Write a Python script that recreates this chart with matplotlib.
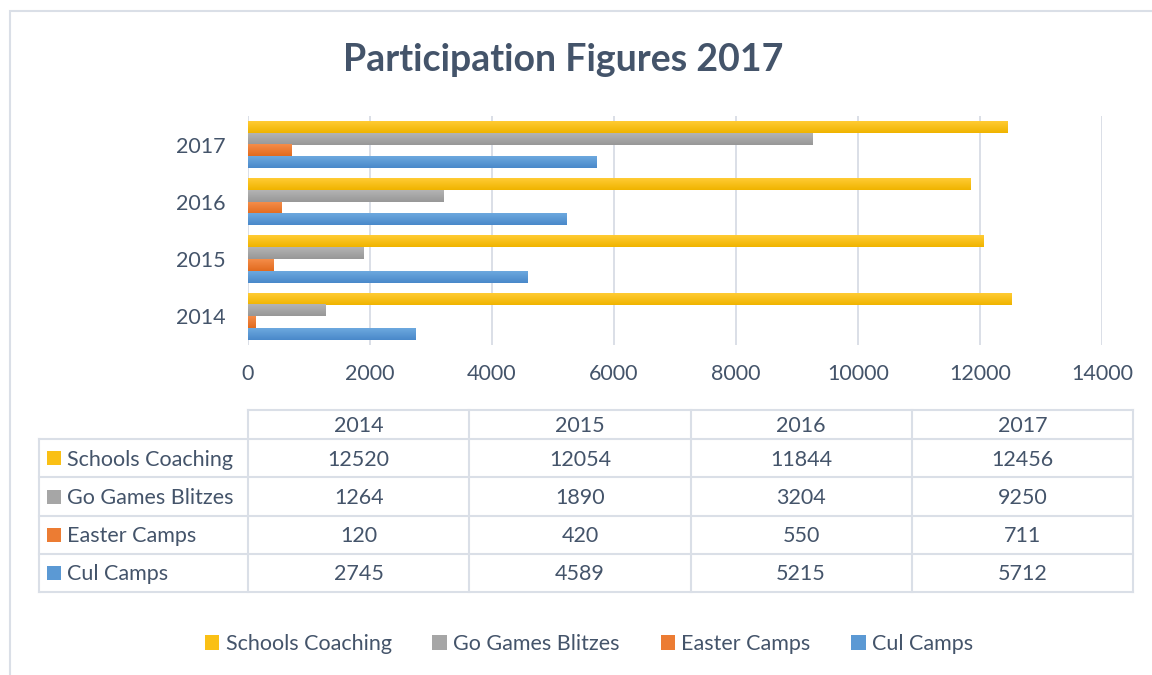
"""Participation figures 2017: clustered horizontal bars with a data table underneath."""

import matplotlib

matplotlib.use("Agg")
import matplotlib.pyplot as plt
import numpy as np
from matplotlib.colors import LinearSegmentedColormap
from matplotlib.patches import Patch, Rectangle

years = ["2014", "2015", "2016", "2017"]
series = ["Schools Coaching", "Go Games Blitzes", "Easter Camps", "Cul Camps"]
schools_coaching = [12520, 12054, 11844, 12456]
go_games_blitzes = [1264, 1890, 3204, 9250]
easter_camps = [120, 420, 550, 711]
cul_camps = [2745, 4589, 5215, 5712]
values = [schools_coaching, go_games_blitzes, easter_camps, cul_camps]
x_ticks = [0, 2000, 4000, 6000, 8000, 10000, 12000, 14000]

# (top, bottom) gradient colours per series, plus a mid tone for swatches
grad = {
    "Schools Coaching": ("#FFCB33", "#F0B400"),
    "Go Games Blitzes": ("#B3B3B3", "#989898"),
    "Easter Camps": ("#F48C48", "#E26B1F"),
    "Cul Camps": ("#6CA8DE", "#4A89CA"),
}
mid = {
    "Schools Coaching": "#FAC015",
    "Go Games Blitzes": "#A6A6A6",
    "Easter Camps": "#EC7C33",
    "Cul Camps": "#5B99D4",
}

TXT = "#44546A"
LINE = "#DADFE7"
FONT = "Lato"
FS = 15.5

W, H = 1152, 675
fig = plt.figure(figsize=(W / 100, H / 100), dpi=100)
plt.rcParams["font.family"] = [FONT, "DejaVu Sans"]


def fx(px):
    return px / W


def fy(py):
    return 1 - py / H


# outer chart frame (only left/top edges are in view)
fig.patches.append(
    Rectangle((fx(10), fy(700)), fx(1200), fy(11) - fy(700), transform=fig.transFigure,
              fill=False, edgecolor=LINE, lw=1.5)
)

fig.text(fx(563), fy(71), "Participation Figures 2017", ha="center", va="baseline",
         fontsize=27, fontweight="bold", color=TXT)

# bar plot area
ax = fig.add_axes([fx(248), fy(345), fx(1102) - fx(248), fy(116) - fy(345)])
h = 0.205
pos = np.arange(len(years))
offsets = [1.5 * h, 0.5 * h, -0.5 * h, -1.5 * h]
for name, vals, off in zip(series, values, offsets):
    bars = ax.barh(pos + off, vals, height=h, color="none", edgecolor="none", zorder=2)
    cmap = LinearSegmentedColormap.from_list(name, [grad[name][1], grad[name][0]])
    for p in bars.patches:
        x0, y0 = p.get_x(), p.get_y()
        ax.imshow(np.linspace(0, 1, 16).reshape(-1, 1), cmap=cmap, origin="lower",
                  extent=[x0, x0 + p.get_width(), y0, y0 + p.get_height()],
                  aspect="auto", zorder=2)

ax.set_xlim(0, 14000)
ax.set_ylim(-0.5, 3.5)
ax.set_xticks(x_ticks)
ax.set_xticklabels([str(t) for t in x_ticks])
ax.set_yticks(pos)
ax.set_yticklabels(years)
ax.grid(axis="x", color=LINE, lw=1.4, zorder=0)
ax.set_axisbelow(True)
for s in ax.spines.values():
    s.set_visible(False)
ax.tick_params(axis="x", length=0, pad=14, labelsize=FS, labelcolor=TXT)
ax.tick_params(axis="y", length=0, pad=16, labelsize=FS, labelcolor=TXT)

# data table drawn in pixel coordinates
tab = fig.add_axes([0, 0, 1, 1], zorder=-1)
tab.set_xlim(0, W)
tab.set_ylim(H, 0)
tab.axis("off")
col_edges = np.linspace(248, 1133, len(years) + 1)
row_edges = [410, 439, 477, 516, 554, 592]
lab_left = 39
kw = dict(color=LINE, lw=1.5, solid_capstyle="projecting")
tab.plot([col_edges[0], col_edges[-1]], [row_edges[0]] * 2, **kw)
for y in row_edges[1:]:
    tab.plot([lab_left, col_edges[-1]], [y, y], **kw)
for x in col_edges:
    tab.plot([x, x], [row_edges[0], row_edges[-1]], **kw)
tab.plot([lab_left, lab_left], [row_edges[1], row_edges[-1]], **kw)

for j, yr in enumerate(years):
    cx = (col_edges[j] + col_edges[j + 1]) / 2
    cy = (row_edges[0] + row_edges[1]) / 2
    tab.text(cx, cy + 7.5, yr, ha="center", va="baseline", fontsize=FS, color=TXT)
for i, (name, vals) in enumerate(zip(series, values)):
    cy = (row_edges[i + 1] + row_edges[i + 2]) / 2
    tab.add_patch(Rectangle((47, cy - 7), 14, 14, color=mid[name], lw=0))
    tab.text(67, cy + 7.5, name, ha="left", va="baseline", fontsize=FS, color=TXT)
    for j, v in enumerate(vals):
        cx = (col_edges[j] + col_edges[j + 1]) / 2
        tab.text(cx, cy + 7.5, str(v), ha="center", va="baseline", fontsize=FS, color=TXT)

handles = [Patch(facecolor=mid[n], edgecolor="none", label=n) for n in series]
fig.legend(handles=handles, loc="center", bbox_to_anchor=(fx(589), fy(644)), ncol=4,
           frameon=False, fontsize=FS, labelcolor=TXT, handlelength=0.66, handleheight=0.66,
           handletextpad=0.3, columnspacing=1.9)

fig.savefig("out.png", dpi=100)
